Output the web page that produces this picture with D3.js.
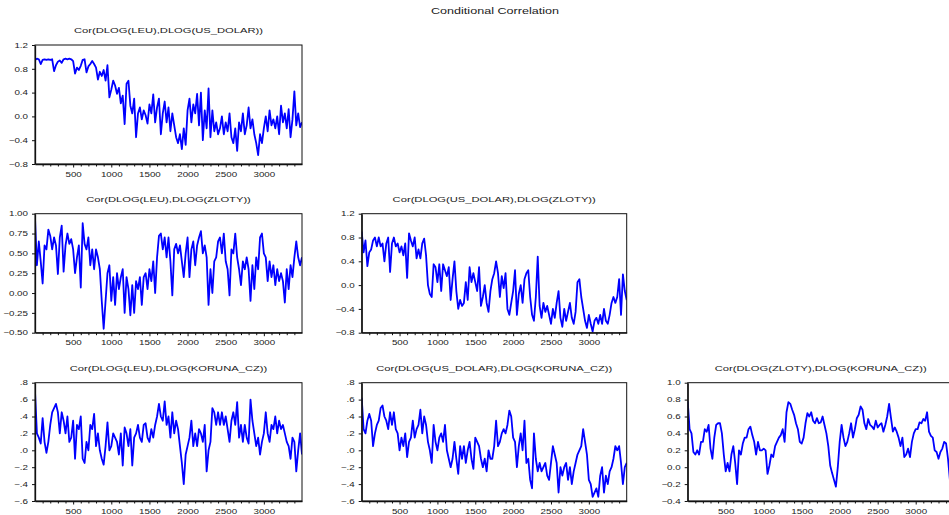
<!DOCTYPE html>
<html>
<head>
<meta charset="utf-8">
<script src="https://cdn.jsdelivr.net/npm/d3@7/dist/d3.min.js"></script>
<style>
  html, body { margin: 0; padding: 0; background: #fff; }
  svg { display: block; }
  text { font-family: "Liberation Sans", Arial, sans-serif; fill: #1a1a1a; }
</style>
</head>
<body>
<script>
const obs = d3.range(0, 3501, 25);
const xTickLabels = [500, 1000, 1500, 2000, 2500, 3000];
const xMinorTicks = d3.range(100, 3500, 100);

const mainTitle = "Conditional Correlation";
const titles = [
  "Cor(DLOG(LEU),DLOG(US_DOLAR))",
  "Cor(DLOG(LEU),DLOG(ZLOTY))",
  "Cor(DLOG(US_DOLAR),DLOG(ZLOTY))",
  "Cor(DLOG(LEU),DLOG(KORUNA_CZ))",
  "Cor(DLOG(US_DOLAR),DLOG(KORUNA_CZ))",
  "Cor(DLOG(ZLOTY),DLOG(KORUNA_CZ))"
];

const leuUsd = [0.95,0.97,0.96,0.88, 0.95,0.96,0.95,0.96, 0.95,0.96,0.76,0.86, 0.92,0.94,0.90,0.96, 0.97,0.96,0.97,0.96, 0.93,0.72,0.82,0.78, 0.85,0.95,0.96,0.74, 0.84,0.88,0.93,0.88, 0.82,0.62,0.75,0.68, 0.78,0.60,0.86,0.32, 0.45,0.60,0.52,0.38, 0.48,0.22,0.35,-0.13, 0.55,0.60,0.18,0.05, 0.30,-0.35,0.05,0.15, -0.05,0.10,0.02,-0.12, 0.20,0.05,0.37,-0.10, 0.15,0.30,-0.30,0.05, 0.25,-0.10,0.15,-0.25, 0.05,-0.15,-0.35,-0.45, -0.30,-0.55,-0.20,-0.48, 0.10,0.30,-0.10,0.20, 0.05,0.38,-0.15,0.40, -0.40,0.10,-0.20,0.47, -0.35,0.10,-0.25,-0.10, -0.30,-0.20,0.00,-0.30, -0.10,-0.25,0.05,-0.35, -0.45,-0.20,-0.58,-0.10, -0.25,0.05,-0.30,-0.15, 0.15,-0.20,-0.05,-0.30, -0.45,-0.65,-0.30,-0.45, -0.20,0.00,-0.25,0.10, -0.15,-0.05,-0.20,0.00, -0.30,0.18,-0.10,0.05, -0.20,0.12,-0.35,-0.05, 0.42,-0.15,0.05,-0.18, -0.10];

const leuZloty = [0.95,0.35,0.65,0.4,0.12,0.6,0.55,0.8,0.72,0.55, 0.7,0.6,0.24,0.7,0.85,0.27,0.6,0.75,0.62,0.68, 0.55,0.25,0.45,0.6,0.07,0.88,0.62,0.55,0.7,0.35, 0.55,0.3,0.55,0.45,0.3,-0.1,-0.45,-0.1,0.25,0.35, -0.1,0.2,-0.15,0.25,0.05,0.2,0.3,-0.25,0.2,0.05, -0.28,0.1,-0.25,0.15,0.05,0.2,-0.15,0.2,0.25,0.05, 0.3,0.15,0.4,0.0,0.45,0.72,0.75,0.55,0.7,0.45, 0.7,0.4,-0.03,0.55,0.62,0.5,0.6,0.4,0.2,0.5, 0.7,0.2,0.55,0.65,0.35,0.6,0.7,0.78,0.5,0.6, 0.45,-0.15,0.3,0.0,0.4,0.45,0.65,0.7,0.5,0.75, 0.4,0.3,-0.03,0.55,0.5,0.75,0.45,0.3,0.1,0.4, 0.3,0.45,0.3,-0.1,0.35,0.05,0.45,0.3,0.7,0.75, 0.5,0.45,0.15,0.4,0.2,0.35,0.1,0.3,0.15,0.25, 0.15,-0.12,0.3,0.05,0.35,0.2,0.45,0.65,0.45,0.35, 0.45];

const usdZloty = [0.9,0.55,0.75,0.32,0.55,0.6,0.75,0.8,0.65,0.8, 0.65,0.7,0.4,0.7,0.8,0.22,0.7,0.8,0.65,0.7, 0.55,0.65,0.5,0.7,0.12,0.87,0.75,0.65,0.8,0.45, 0.6,0.45,0.7,0.78,0.5,0.0,-0.15,-0.2,0.35,0.3, 0.05,0.35,-0.1,0.35,0.25,0.15,0.3,-0.25,0.1,0.4, -0.1,-0.4,-0.25,-0.35,-0.3,0.05,-0.25,0.3,0.05,0.2, 0.05,-0.1,0.3,-0.35,-0.2,0.0,-0.3,-0.45,-0.1,0.1, 0.2,0.4,0.2,-0.2,0.15,-0.05,0.2,-0.4,-0.5,-0.3, -0.1,0.25,-0.5,-0.15,0.0,-0.3,0.1,0.2,0.25,-0.2, -0.5,-0.6,-0.2,0.48,-0.35,-0.55,-0.3,-0.45,-0.35,-0.5, -0.65,-0.4,-0.55,-0.3,-0.1,-0.55,-0.7,-0.4,-0.6,-0.45, -0.3,-0.55,-0.65,-0.45,0.05,0.1,-0.2,-0.4,-0.6,-0.72, -0.5,-0.65,-0.78,-0.6,-0.55,-0.65,-0.5,-0.65,-0.4,-0.6, -0.65,-0.5,-0.3,-0.2,-0.3,-0.2,0.1,-0.5,0.18,-0.1, -0.25];

const leuKoruna = [0.7,0.2,0.15,0.08,0.38,0.1,-0.03,0.1,0.3,0.45, 0.5,0.55,0.45,0.2,0.45,0.35,0.2,0.4,0.1,0.15, 0.35,-0.1,0.3,0.25,0.4,-0.1,-0.15,0.1,0.0,0.3, 0.25,0.43,0.05,0.2,0.0,-0.1,-0.17,0.05,0.33,0.0, 0.05,0.2,0.15,0.1,-0.05,0.2,-0.18,0.27,0.2,0.05, 0.25,-0.18,0.15,0.2,0.3,0.15,0.1,0.3,0.32,0.15, 0.1,0.25,0.15,0.3,0.4,0.55,0.4,0.35,0.58,0.3, 0.4,0.15,0.45,0.2,0.35,0.25,0.05,-0.15,-0.4,-0.05, 0.05,0.15,0.35,0.05,0.2,0.05,0.25,0.2,0.1,0.3, -0.25,0.0,0.1,0.5,0.45,0.3,0.45,0.3,0.45,0.3, 0.4,0.25,0.1,0.35,0.45,0.3,0.57,0.15,0.3,0.1, 0.3,0.15,0.08,0.6,0.35,0.2,0.05,0.15,-0.05,0.1, 0.2,0.45,0.2,0.1,0.3,0.25,0.4,0.2,0.35,0.25, 0.3,0.2,0.1,0.05,-0.1,0.15,0.1,-0.25,0.0,0.2, -0.05];

const usdKoruna = [0.62,0.25,0.2,0.35,0.43,0.35,0.05,0.2,0.3,0.35, 0.5,0.53,0.4,0.35,0.25,0.45,0.3,0.45,0.25,0.2, 0.0,0.15,0.05,0.2,-0.08,0.1,0.15,0.35,0.15,0.25, 0.3,0.48,0.2,0.4,0.3,0.1,0.0,-0.15,0.3,0.1, 0.0,0.15,0.2,0.1,0.3,0.0,-0.1,-0.2,-0.1,0.1, -0.1,-0.28,0.05,-0.1,0.05,-0.15,0.0,0.1,-0.1,-0.22, 0.15,0.1,0.05,-0.1,-0.2,-0.1,-0.25,0.0,-0.1,-0.1, 0.05,0.35,0.05,0.1,0.2,0.25,0.2,0.3,0.47,0.4, 0.15,0.1,-0.2,0.05,0.2,0.0,0.35,-0.15,-0.1,-0.35, -0.45,0.2,-0.1,-0.25,-0.15,-0.25,-0.2,-0.15,-0.3,-0.35, -0.15,0.05,-0.05,-0.15,-0.5,-0.2,-0.3,-0.2,-0.15,-0.35, -0.2,-0.4,-0.25,-0.15,-0.05,0.0,0.05,0.25,0.1,-0.05, -0.35,-0.4,-0.55,-0.5,-0.45,-0.55,-0.3,-0.2,-0.5,-0.3, -0.4,-0.25,-0.2,-0.1,0.05,0.0,0.05,-0.15,-0.4,-0.2, -0.15];

const zlotyKoruna = [0.78,0.45,0.4,0.18,0.15,0.2,0.15,0.3,0.3,0.45, 0.42,0.5,0.22,0.1,0.35,0.5,0.52,0.52,0.4,0.15, -0.05,0.05,-0.05,0.15,0.25,0.05,-0.2,0.2,0.15,0.28, 0.35,0.35,0.45,0.48,0.38,0.3,0.15,0.3,0.2,0.2, 0.22,0.2,-0.08,0.02,0.15,0.12,0.25,0.3,0.35,0.38, 0.45,0.3,0.65,0.77,0.75,0.68,0.62,0.52,0.45,0.3, 0.28,0.35,0.52,0.64,0.6,0.65,0.55,0.52,0.58,0.52, 0.53,0.6,0.5,0.4,0.25,0.02,-0.07,-0.15,-0.23,0.0, 0.3,0.5,0.35,0.25,0.3,0.4,0.52,0.35,0.45,0.58, 0.62,0.72,0.68,0.52,0.45,0.57,0.5,0.48,0.45,0.55, 0.47,0.5,0.52,0.42,0.5,0.6,0.75,0.58,0.42,0.47, 0.42,0.35,0.25,0.35,0.12,0.15,0.22,0.12,0.3,0.4, 0.45,0.45,0.53,0.52,0.57,0.55,0.65,0.42,0.37,0.35, 0.2,0.18,0.1,0.18,0.22,0.3,0.28,0.1,-0.15,-0.1, -0.05];

const yTicksA = [-0.8, -0.4, 0.0, 0.4, 0.8, 1.2];
const yTicksB = [-0.5, -0.25, 0.0, 0.25, 0.5, 0.75, 1.0];
const yTicksC = [-0.6, -0.4, -0.2, 0.0, 0.2, 0.4, 0.6, 0.8];
const yTicksD = [-0.4, -0.2, 0.0, 0.2, 0.4, 0.6, 0.8, 1.0];

// ---------- LAYOUT ----------
const W = 949, H = 515;
const colX = [35, 361.7, 687.7];
const colW = [267, 265, 266];
const rowY = [45, 213.7, 382.7];
const rowH = [119, 119, 118.3];
const SX = 1.4; // horizontal text stretch seen in the reference

const fmt1 = d3.format(".1f");
const fmt2 = d3.format(".2f");
const fmtDot = v => fmt1(v).replace("0.", ".");

const panels = [
  { title: titles[0], values: leuUsd,      ticks: yTicksA, fmt: fmt1,   col: 0, row: 0 },
  { title: titles[1], values: leuZloty,    ticks: yTicksB, fmt: fmt2,   col: 0, row: 1 },
  { title: titles[2], values: usdZloty,    ticks: yTicksA, fmt: fmt1,   col: 1, row: 1 },
  { title: titles[3], values: leuKoruna,   ticks: yTicksC, fmt: fmtDot, col: 0, row: 2 },
  { title: titles[4], values: usdKoruna,   ticks: yTicksC, fmt: fmtDot, col: 1, row: 2 },
  { title: titles[5], values: zlotyKoruna, ticks: yTicksD, fmt: fmt1,   col: 2, row: 2 }
];

const svg = d3.select("body").append("svg")
  .attr("width", W).attr("height", H)
  .style("background", "#fff");

svg.append("text")
  .attr("transform", `translate(495,14) scale(${SX},1)`)
  .attr("text-anchor", "middle")
  .style("font-size", "9px")
  .text(mainTitle);

panels.forEach((p, i) => {
  const x0 = colX[p.col], y0 = rowY[p.row], w = colW[p.col], h = rowH[p.row];
  const g = svg.append("g").attr("transform", `translate(${x0},${y0})`);

  const x = d3.scaleLinear().domain([0, 3500]).range([0, w]);
  const y = d3.scaleLinear().domain(d3.extent(p.ticks)).range([h, 0]);

  g.append("clipPath").attr("id", "clip" + i)
    .append("rect").attr("x", 0).attr("y", 0).attr("width", w).attr("height", h);

  // series line
  const line = d3.line().x((d, j) => x(obs[j])).y(d => y(d));
  g.append("path")
    .datum(p.values)
    .attr("clip-path", `url(#clip${i})`)
    .attr("fill", "none")
    .attr("stroke", "#0000ff")
    .attr("stroke-width", 1.8)
    .attr("stroke-linejoin", "round")
    .attr("d", line);

  // frame
  g.append("rect")
    .attr("x", 0).attr("y", 0).attr("width", w).attr("height", h)
    .attr("fill", "none").attr("stroke", "#111").attr("stroke-width", 1);

  // left axis
  const ya = g.append("g").call(
    d3.axisLeft(y).tickValues(p.ticks).tickFormat(p.fmt).tickSize(3).tickSizeOuter(0)
  );
  ya.select(".domain").attr("stroke", "#111").attr("stroke-width", 1.3);
  ya.selectAll(".tick line").attr("stroke", "#111");
  ya.selectAll(".tick text")
    .attr("x", 0)
    .attr("transform", `translate(-7,0) scale(${SX},1)`)
    .attr("fill", "#1a1a1a")
    .style("font-size", "7px")
    .style("font-family", "'Liberation Sans', Arial, sans-serif");

  // bottom axis
  const xa = g.append("g").attr("transform", `translate(0,${h})`).call(
    d3.axisBottom(x).tickValues(xMinorTicks)
      .tickFormat(v => xTickLabels.includes(v) ? String(v) : "")
      .tickSize(2.5).tickSizeOuter(0)
  );
  xa.select(".domain").attr("stroke", "#111").attr("stroke-width", 1.3);
  xa.selectAll(".tick line").attr("stroke", "#111")
    .attr("y2", v => xTickLabels.includes(v) ? 3.5 : 2.5);
  xa.selectAll(".tick text")
    .attr("y", 0).attr("dy", null)
    .attr("transform", `translate(0,12.5) scale(${SX},1)`)
    .attr("fill", "#1a1a1a")
    .style("font-size", "7px")
    .style("font-family", "'Liberation Sans', Arial, sans-serif");

  // panel title
  svg.append("text")
    .attr("transform", `translate(${x0 + w / 2},${y0 - 12}) scale(${SX},1)`)
    .attr("text-anchor", "middle")
    .style("font-size", "8px")
    .text(p.title);
});
</script>
</body>
</html>
